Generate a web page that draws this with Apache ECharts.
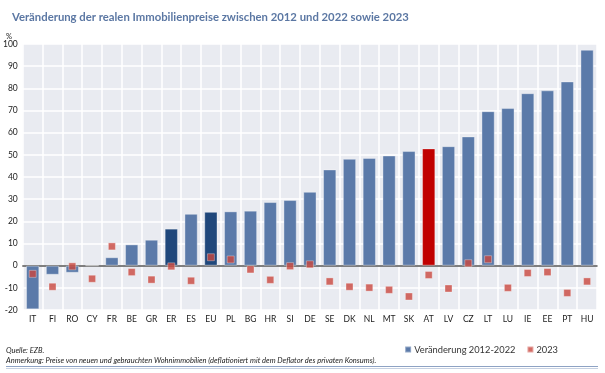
<!DOCTYPE html>
<html><head><meta charset="utf-8">
<script src="https://cdn.jsdelivr.net/npm/echarts@6/dist/echarts.min.js"></script>
<style>html,body{margin:0;padding:0;background:#fff}#c{width:605px;height:373px}</style>
</head><body><div id="c"></div>
<script>
const categories = ['IT','FI','RO','CY','FR','BE','GR','ER','ES','EU','PL','BG','HR','SI','DE','SE','DK','NL','MT','SK','AT','LV','CZ','LT','LU','IE','EE','PT','HU'];
const change2012_2022 = [-19.7,-4.1,-3.2,0,3.8,9.6,11.7,16.7,23.4,24.3,24.5,24.8,28.7,29.6,33.3,43.4,48.2,48.6,49.7,51.7,52.9,53.9,58.3,69.7,71.1,77.8,79.1,83.1,97.4];
const change2023 = [-3.7,-9.5,-0.3,-5.9,8.7,-2.9,-6.3,-0.3,-6.8,3.8,2.8,-1.7,-6.4,-0.2,0.6,-7.1,-9.5,-9.9,-10.9,-13.9,-4.2,-10.3,1.1,2.9,-10,-3.3,-2.9,-12.3,-7.1];
const yTicks = [-20,-10,0,10,20,30,40,50,60,70,80,90,100];
const darkCats = ['ER','EU'];
const redCats = ['AT'];

const FONT = 'Lato, "Open Sans", sans-serif';
const barData = change2012_2022.map((v,i)=>{
  const c = categories[i];
  let col = '#5b7aa9';
  if (darkCats.includes(c)) col = '#1f477b';
  if (redCats.includes(c)) col = '#c00000';
  return {value:v, itemStyle:{color:col}};
});

const chart = echarts.init(document.getElementById('c'), null, {renderer:'canvas'});
chart.setOption({
  animation:false,
  textStyle:{fontFamily:FONT},
  title:{text:'Veränderung der realen Immobilienpreise zwischen 2012 und 2022 sowie 2023',
    left:7, top:7, textStyle:{fontFamily:FONT, fontSize:11.3, fontWeight:'bold', color:'#5b77a3'}},
  grid:{left:22, right:8, top:44, bottom:63, show:true, backgroundColor:'#e9ebf1', borderWidth:0},
  legend:{right:42, top:340, itemWidth:6, itemHeight:6, itemGap:11,
    textStyle:{fontFamily:FONT, fontSize:9.3, color:'#333', padding:[0,0,0,-2]},
    data:[{name:'Veränderung 2012-2022', icon:'rect', itemStyle:{color:'#5b7aa9'}},{name:'2023', icon:'rect', itemStyle:{color:'#c9473f'}}]},
  xAxis:{type:'category', data:categories,
    axisLine:{onZero:true, lineStyle:{color:'#555', width:1.5}},
    axisTick:{show:false},
    axisLabel:{fontFamily:FONT, fontSize:8.5, color:'#222', margin:5, verticalAlign:'top', interval:0},
    splitLine:{show:true, interval:0, lineStyle:{color:'#ffffff', width:1.5}}},
  yAxis:{type:'value', min:-20, max:100, interval:10,
    axisLine:{show:false}, axisTick:{show:false},
    axisLabel:{fontFamily:FONT, fontSize:8.5, color:'#222', margin:5,
      formatter:v=>yTicks.includes(v)?String(v):''},
    splitLine:{lineStyle:{color:'#ffffff', width:1.5}}},
  series:[
    {name:'Veränderung 2012-2022', type:'bar', data:barData, barWidth:'67%',
      itemStyle:{borderColor:'rgba(255,255,255,0.35)', borderWidth:1}},
    {name:'2023', type:'scatter', data:change2023, symbol:'rect', symbolSize:7,
      itemStyle:{color:'#c9473f', borderColor:'rgba(255,255,255,0.5)', borderWidth:0.8}, z:5}
  ],
  graphic:[
    {type:'text', left:6, top:33, style:{text:'%', font:'7.5px '+FONT, fill:'#222'}},
    {type:'text', left:6, top:347, style:{text:'Quelle: EZB.', font:'italic 7.5px '+FONT, fill:'#222'}},
    {type:'text', left:6, top:357, style:{text:'Anmerkung: Preise von neuen und gebrauchten Wohnimmobilien (deflationiert mit dem Deflator des privaten Konsums).', font:'italic 7.5px '+FONT, fill:'#222'}},
    {type:'line', shape:{x1:6,y1:366.5,x2:598,y2:366.5}, style:{stroke:'#8ea3c4', lineWidth:1}},
    {type:'line', shape:{x1:6,y1:368.5,x2:598,y2:368.5}, style:{stroke:'#c7d1e2', lineWidth:1}}
  ]
});
</script></body></html>
